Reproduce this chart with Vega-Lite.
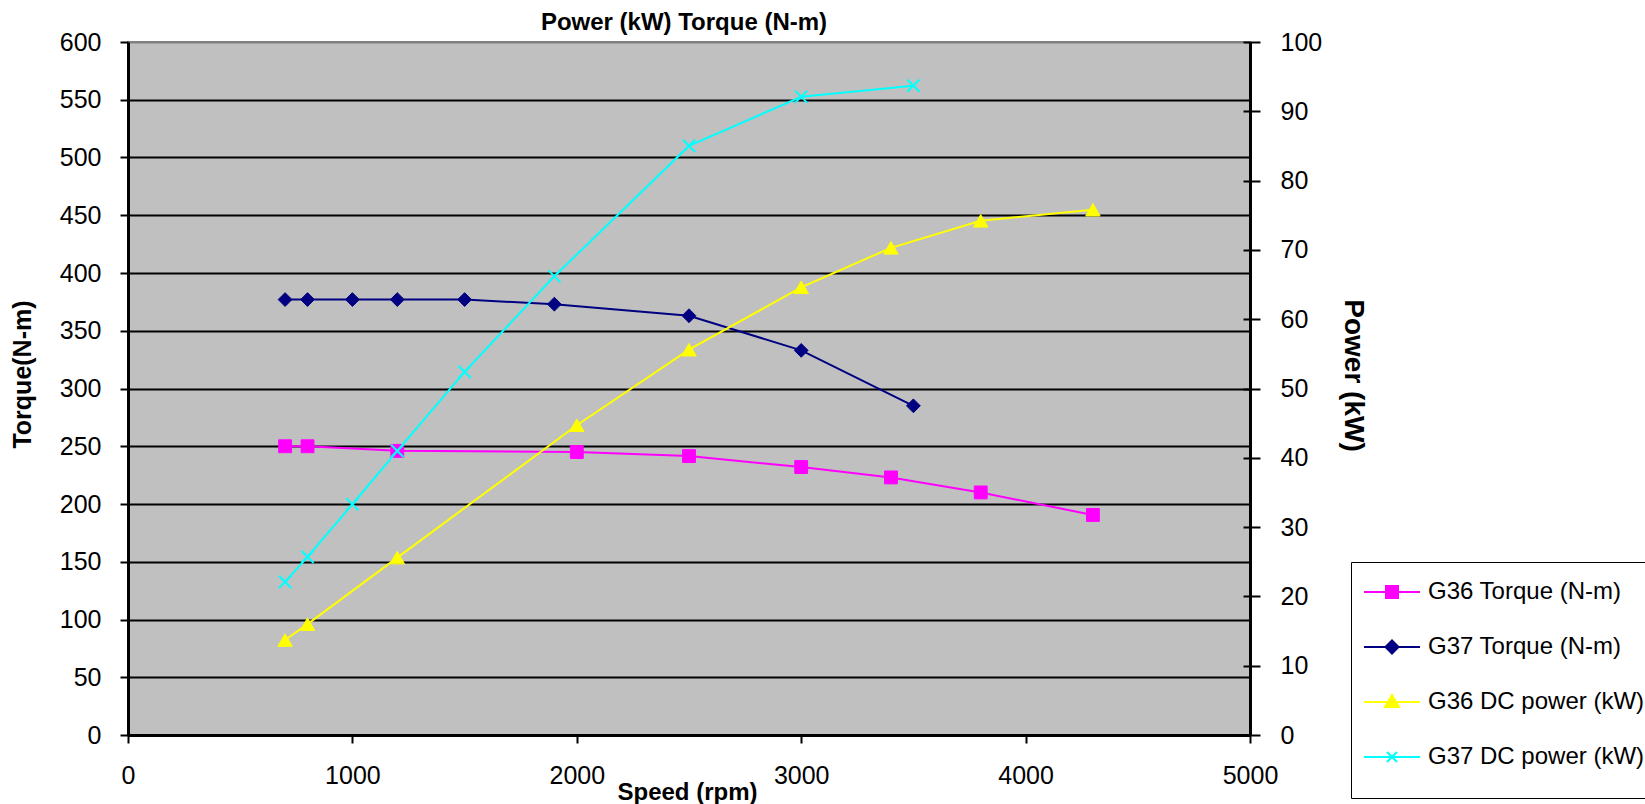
{
  "$schema": "https://vega.github.io/schema/vega-lite/v6.json",
  "width": 1122,
  "height": 693,
  "autosize": {"type": "none"},
  "padding": {"left": 128, "top": 42, "right": 395, "bottom": 69},
  "background": "white",
  "title": {"text": "Power (kW) Torque (N-m)", "fontSize": 24, "fontWeight": "bold", "font": "Liberation Sans", "anchor": "middle", "baseline": "alphabetic", "offset": -24, "dx": -5, "color": "black"},
  "config": {
    "font": "Liberation Sans",
    "view": {"fill": "#C0C0C0", "stroke": "#808080", "strokeWidth": 2},
    "axis": {"labelFont": "Liberation Sans", "labelFontSize": 25, "labelColor": "black", "titleColor": "black", "titleFont": "Liberation Sans", "titleFontWeight": "bold", "domainColor": "black", "domainWidth": 3, "tickColor": "black", "tickWidth": 2, "tickSize": 8, "labelOverlap": false, "labelFlush": false},
    "legend": {"orient": "none", "legendX": 1223, "legendY": 520, "padding": 18, "strokeColor": "black", "fillColor": "white", "symbolSize": 100, "symbolStrokeWidth": 2, "symbolOffset": 11, "labelOffset": 24, "labelFontSize": 24, "labelFont": "Liberation Sans", "labelColor": "black", "rowPadding": 31, "labelLimit": 400, "titleOrient": "bottom", "titleFontSize": 12, "titlePadding": 0}
  },
  "data": {"values": [
    {"series": "G36 Torque (N-m)", "axis": "torque", "rpm": 700, "value": 250},
    {"series": "G36 Torque (N-m)", "axis": "torque", "rpm": 800, "value": 250},
    {"series": "G36 Torque (N-m)", "axis": "torque", "rpm": 1200, "value": 246},
    {"series": "G36 Torque (N-m)", "axis": "torque", "rpm": 2000, "value": 245},
    {"series": "G36 Torque (N-m)", "axis": "torque", "rpm": 2500, "value": 241.5},
    {"series": "G36 Torque (N-m)", "axis": "torque", "rpm": 3000, "value": 232},
    {"series": "G36 Torque (N-m)", "axis": "torque", "rpm": 3400, "value": 223},
    {"series": "G36 Torque (N-m)", "axis": "torque", "rpm": 3800, "value": 210},
    {"series": "G36 Torque (N-m)", "axis": "torque", "rpm": 4300, "value": 190.5},
    {"series": "G37 Torque (N-m)", "axis": "torque", "rpm": 700, "value": 377},
    {"series": "G37 Torque (N-m)", "axis": "torque", "rpm": 800, "value": 377},
    {"series": "G37 Torque (N-m)", "axis": "torque", "rpm": 1000, "value": 377},
    {"series": "G37 Torque (N-m)", "axis": "torque", "rpm": 1200, "value": 377},
    {"series": "G37 Torque (N-m)", "axis": "torque", "rpm": 1500, "value": 377},
    {"series": "G37 Torque (N-m)", "axis": "torque", "rpm": 1900, "value": 373},
    {"series": "G37 Torque (N-m)", "axis": "torque", "rpm": 2500, "value": 363},
    {"series": "G37 Torque (N-m)", "axis": "torque", "rpm": 3000, "value": 333},
    {"series": "G37 Torque (N-m)", "axis": "torque", "rpm": 3500, "value": 285},
    {"series": "G36 DC power (kW)", "axis": "power", "rpm": 700, "value": 13.7},
    {"series": "G36 DC power (kW)", "axis": "power", "rpm": 800, "value": 16},
    {"series": "G36 DC power (kW)", "axis": "power", "rpm": 1200, "value": 25.6},
    {"series": "G36 DC power (kW)", "axis": "power", "rpm": 2000, "value": 44.7},
    {"series": "G36 DC power (kW)", "axis": "power", "rpm": 2500, "value": 55.6},
    {"series": "G36 DC power (kW)", "axis": "power", "rpm": 3000, "value": 64.6},
    {"series": "G36 DC power (kW)", "axis": "power", "rpm": 3400, "value": 70.3},
    {"series": "G36 DC power (kW)", "axis": "power", "rpm": 3800, "value": 74.2},
    {"series": "G36 DC power (kW)", "axis": "power", "rpm": 4300, "value": 75.8},
    {"series": "G37 DC power (kW)", "axis": "power", "rpm": 700, "value": 22.1},
    {"series": "G37 DC power (kW)", "axis": "power", "rpm": 800, "value": 25.7},
    {"series": "G37 DC power (kW)", "axis": "power", "rpm": 1000, "value": 33.3},
    {"series": "G37 DC power (kW)", "axis": "power", "rpm": 1200, "value": 41},
    {"series": "G37 DC power (kW)", "axis": "power", "rpm": 1500, "value": 52.4},
    {"series": "G37 DC power (kW)", "axis": "power", "rpm": 1900, "value": 66.2},
    {"series": "G37 DC power (kW)", "axis": "power", "rpm": 2500, "value": 85},
    {"series": "G37 DC power (kW)", "axis": "power", "rpm": 3000, "value": 92.1},
    {"series": "G37 DC power (kW)", "axis": "power", "rpm": 3500, "value": 93.7}
  ]},
  "encoding": {
    "x": {"field": "rpm", "type": "quantitative", "scale": {"domain": [0, 5000], "nice": false},
      "axis": {"title": "Speed (rpm)", "format": "d", "values": [0, 1000, 2000, 3000, 4000, 5000], "grid": false, "labelPadding": 20, "titleFontSize": 24, "titleX": 559, "titleY": 64, "titleBaseline": "alphabetic", "titleAlign": "center"}}
  },
  "layer": [
    {
      "transform": [{"filter": "datum.axis == 'torque'"}],
      "encoding": {
        "y": {"field": "value", "type": "quantitative", "scale": {"domain": [0, 600], "nice": false},
          "axis": {"title": "Torque(N-m)", "orient": "left", "values": [0, 50, 100, 150, 200, 250, 300, 350, 400, 450, 500, 550, 600], "grid": true, "gridColor": {"condition": {"test": "datum.value == 600", "value": "#808080"}, "value": "black"}, "gridWidth": 2, "labelPadding": 19, "titleFontSize": 25, "titleX": -106, "titleY": 332, "titleAngle": -90, "titleBaseline": "middle", "titleAlign": "center"}}
      },
      "layer": [
        {"mark": {"type": "line", "strokeWidth": 2},
          "encoding": {"stroke": {"field": "series", "type": "nominal", "title": " ", "scale": {"domain": ["G36 Torque (N-m)", "G37 Torque (N-m)", "G36 DC power (kW)", "G37 DC power (kW)"], "range": ["#FF00FF", "#000080", "#FFFF00", "#00FFFF"]}}}},
        {"transform": [{"filter": "datum.series == 'G36 Torque (N-m)'"}],
          "mark": {"type": "point", "shape": "square", "filled": true, "size": 165, "strokeWidth": 1, "opacity": 1},
          "encoding": {
            "fill": {"field": "series", "type": "nominal", "title": " ", "scale": {"domain": ["G36 Torque (N-m)", "G37 Torque (N-m)", "G36 DC power (kW)", "G37 DC power (kW)"], "range": ["#FF00FF", "#000080", "#FFFF00", "#00FFFF"]}},
            "stroke": {"field": "series", "type": "nominal", "title": " "}
          }},
        {"transform": [{"filter": "datum.series == 'G37 Torque (N-m)'"}],
          "mark": {"type": "point", "shape": "diamond", "filled": true, "size": 190, "strokeWidth": 1, "opacity": 1},
          "encoding": {
            "fill": {"field": "series", "type": "nominal", "title": " "},
            "stroke": {"field": "series", "type": "nominal", "title": " "}
          }}
      ]
    },
    {
      "transform": [{"filter": "datum.axis == 'power'"}],
      "encoding": {
        "y": {"field": "value", "type": "quantitative", "scale": {"domain": [0, 100], "nice": false},
          "axis": {"title": "Power (kW)", "orient": "right", "values": [0, 10, 20, 30, 40, 50, 60, 70, 80, 90, 100], "grid": false, "tickSize": 10, "labelPadding": 20, "titleFontSize": 28, "titleX": 102, "titleY": 333, "titleAngle": 90, "titleBaseline": "middle", "titleAlign": "center"}}
      },
      "layer": [
        {"mark": {"type": "line", "strokeWidth": 2},
          "encoding": {"stroke": {"field": "series", "type": "nominal", "title": " "}}},
        {"transform": [{"filter": "datum.series == 'G36 DC power (kW)'"}],
          "mark": {"type": "point", "shape": "triangle-up", "filled": true, "size": 210, "strokeWidth": 1, "opacity": 1},
          "encoding": {
            "fill": {"field": "series", "type": "nominal", "title": " "},
            "stroke": {"field": "series", "type": "nominal", "title": " "}
          }},
        {"transform": [{"filter": "datum.series == 'G37 DC power (kW)'"}],
          "mark": {"type": "point", "shape": "M-1,-1L1,1M-1,1L1,-1", "filled": true, "size": 150, "strokeWidth": 2, "opacity": 1},
          "encoding": {
            "fill": {"field": "series", "type": "nominal", "title": " "},
            "stroke": {"field": "series", "type": "nominal", "title": " "}
          }}
      ]
    },
    {
      "transform": [{"filter": "datum.axis == 'power'"}],
      "mark": {"type": "point", "opacity": 0},
      "encoding": {
        "y": {"field": "value", "type": "quantitative", "scale": {"domain": [0, 100], "nice": false},
          "axis": {"orient": "right", "values": [0, 10, 20, 30, 40, 50, 60, 70, 80, 90, 100], "grid": false, "tickSize": -7, "labels": false, "domain": false, "title": null}}
      }
    },
    {
      "transform": [{"filter": "false"}],
      "mark": {"type": "point", "filled": true, "size": 100, "strokeWidth": 2, "opacity": 1},
      "encoding": {
        "fill": {"field": "series", "type": "nominal", "title": " "},
        "stroke": {"field": "series", "type": "nominal", "title": " "},
        "shape": {"field": "series", "type": "nominal", "title": " ", "scale": {"domain": ["G36 Torque (N-m)", "G37 Torque (N-m)", "G36 DC power (kW)", "G37 DC power (kW)"], "range": ["M-5.6,0L5.6,0M-1.2,-1.2L1.2,-1.2L1.2,1.2L-1.2,1.2Z", "M-5.6,0L5.6,0M-1.3,0L0,-1.3L1.3,0L0,1.3Z", "M-5.6,0L5.6,0M0,-1.4L1.4,1L-1.4,1Z", "M-5.6,0L5.6,0M-1,-1L1,1M-1,1L1,-1"]}}
      }
    }
  ],
  "resolve": {"scale": {"y": "independent"}, "axis": {"y": "independent"}}
}
